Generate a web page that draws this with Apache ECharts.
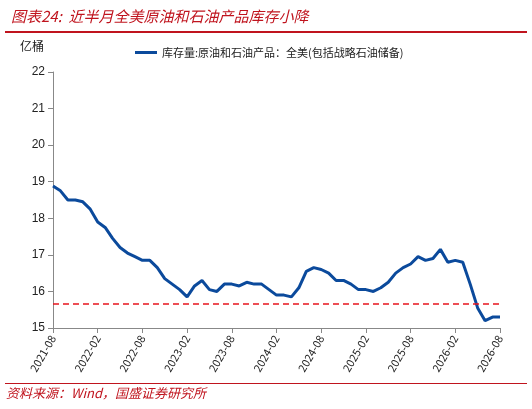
<!DOCTYPE html><html><head><meta charset="utf-8">
<script src="https://cdn.jsdelivr.net/npm/echarts@6/dist/echarts.min.js"></script>
<style>body{margin:0}#c{width:532px;height:409px}</style></head><body><div id="c"></div><script>
const seriesName='库存量:原油和石油产品：全美(包括战略石油储备)';
const dates=[];for(let y=2021,m=8;!(y===2026&&m>8);){dates.push(y+'-'+String(m).padStart(2,'0'));m++;if(m>12){m=1;y++;}}
const values=[18.88,18.75,18.5,18.5,18.45,18.25,17.9,17.75,17.45,17.2,17.05,16.95,16.85,16.85,16.65,16.35,16.2,16.05,15.85,16.15,16.3,16.05,16.0,16.2,16.2,16.15,16.25,16.2,16.2,16.05,15.9,15.9,15.85,16.1,16.55,16.65,16.6,16.5,16.3,16.3,16.2,16.05,16.05,16.0,16.1,16.25,16.5,16.65,16.75,16.95,16.85,16.9,17.15,16.8,16.85,16.8,16.2,15.55,15.2,15.3,15.3];
const refLevel=15.67;
const font='"Noto Sans CJK SC"';
const ch=echarts.init(document.getElementById('c'));
ch.setOption({
 animation:false,
 title:{text:'图表24:  近半月全美原油和石油产品库存小降',left:6,top:4,textStyle:{color:'#c0141e',fontSize:15,fontStyle:'italic',fontWeight:'normal',fontFamily:font}},
 graphic:[{type:'rect',shape:{x:5,y:31,width:522,height:2},style:{fill:'#c0141e'}},
  {type:'rect',shape:{x:5,y:383,width:522,height:1},style:{fill:'#c0141e'}},
  {type:'text',left:6,top:387,style:{text:'资料来源：Wind，国盛证券研究所',fill:'#c0141e',fontSize:13,fontStyle:'italic',fontFamily:font}},
  {type:'text',left:20,top:40,style:{text:'亿桶',fill:'#222',fontSize:12,fontFamily:font}}],
 legend:{top:42,left:130,itemWidth:22,itemHeight:3,icon:'rect',textStyle:{fontSize:11,color:'#222',fontFamily:font},data:[seriesName]},
 grid:{left:53,right:32,top:72,bottom:81},
 xAxis:{type:'category',data:dates,boundaryGap:false,axisLine:{lineStyle:{color:'#888'}},axisTick:{interval:5,alignWithLabel:true,lineStyle:{color:'#888'}},
  axisLabel:{interval:5,rotate:60,fontSize:11,color:'#222',fontFamily:font}},
 yAxis:{type:'value',min:15,max:22,interval:1,axisLine:{show:true,lineStyle:{color:'#888'}},axisTick:{show:true,lineStyle:{color:'#888'}},splitLine:{show:false},axisLabel:{fontSize:12,color:'#222'}},
 series:[{name:seriesName,type:'line',data:values,showSymbol:false,lineStyle:{color:'#0b4a9c',width:3},itemStyle:{color:'#0b4a9c'},
  markLine:{silent:true,symbol:'none',label:{show:false},lineStyle:{color:'#e8141e',type:[6,4],width:1.5},data:[{yAxis:refLevel}]}}]
});
</script></body></html>
